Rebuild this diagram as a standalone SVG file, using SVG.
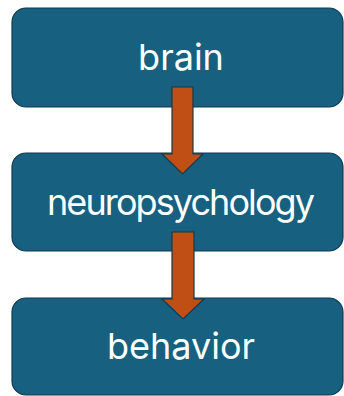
<svg xmlns="http://www.w3.org/2000/svg" width="344" height="396" viewBox="0 0 344 396">
<style>
.box{fill:#17607f;stroke:#0f3b50;stroke-width:1.2}
.lbl{fill:#ffffff;font-family:Inter,"Open Sans","Liberation Sans",sans-serif;font-size:36px;text-anchor:middle}
.arr{fill:#c04f15;stroke:#0f3b50;stroke-width:1.2;stroke-linejoin:miter}
</style>
<rect width="344" height="396" fill="#ffffff"/>
<g id="node-brain">
<rect class="box" x="12" y="8" width="331" height="99" rx="14"/>
<text class="lbl" x="181" y="70">brain</text>
</g>
<g id="node-neuropsychology">
<rect class="box" x="12" y="153" width="331" height="98" rx="14"/>
<text class="lbl" x="181" y="215" textLength="268" lengthAdjust="spacing">neuropsychology</text>
</g>
<g id="node-behavior">
<rect class="box" x="12" y="298" width="331" height="97" rx="14"/>
<text class="lbl" x="181" y="359">behavior</text>
</g>
<g id="connectors">
<polygon class="arr" points="172,87 193,87 193,154 203,154 182.5,174 162,154 172,154"/>
<polygon class="arr" points="172,232 194,232 194,299 204,299 183,319 162,299 172,299"/>
</g>
</svg>
